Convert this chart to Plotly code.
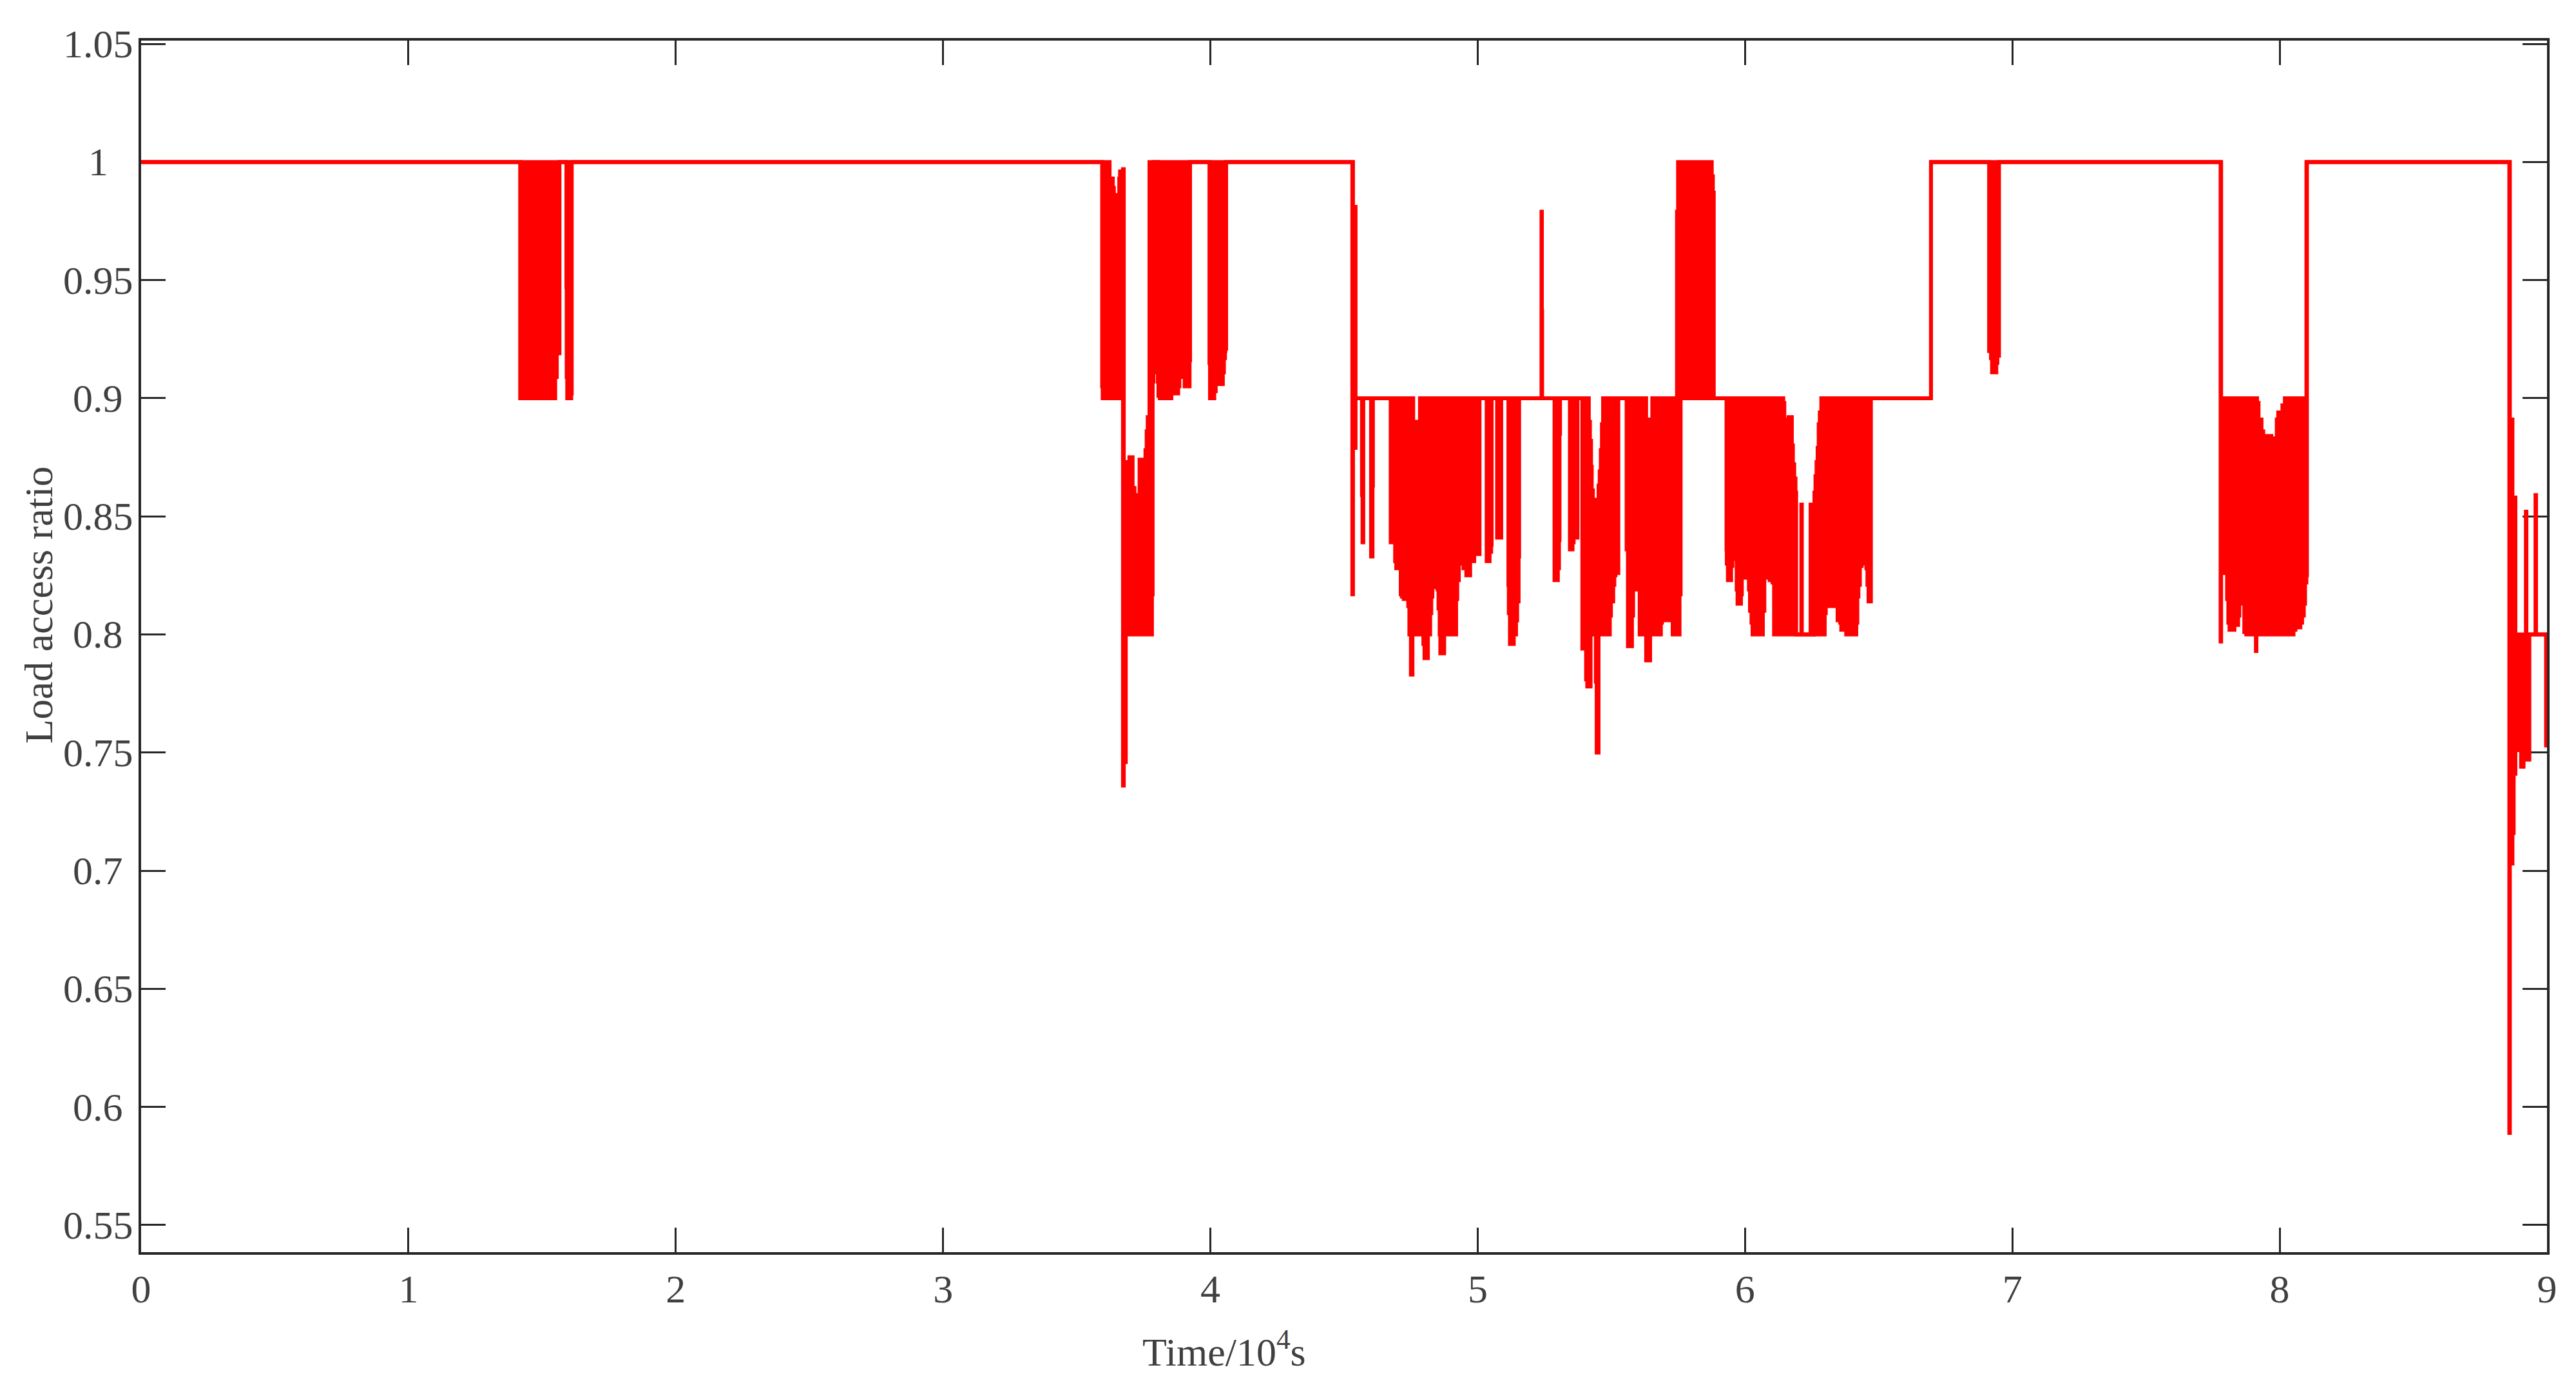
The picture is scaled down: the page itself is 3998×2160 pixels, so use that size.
import plotly.graph_objects as go

# Load access ratio vs time (time in 1e4 s).
# Each region is a list of (time, upper envelope, lower envelope) breakpoints;
# the value holds until the next breakpoint (step signal). Where the signal
# oscillates fast, upper/lower give the band that the trace fills.
start_flat = [
    (0.000, 1.000, 1.000),
]
burst_1_5 = [
    (1.418, 1.000, 0.900), (1.444, 1.000, 0.909), (1.448, 1.000, 0.900),
    (1.549, 1.000, 0.909), (1.555, 1.000, 0.919), (1.565, 1.000, 1.000),
    (1.591, 1.000, 0.947), (1.592, 1.000, 0.909), (1.594, 1.000, 0.900),
    (1.609, 1.000, 0.902), (1.611, 1.000, 1.000),
]
burst_3_7 = [
    (3.595, 1.000, 0.905), (3.597, 1.000, 0.900), (3.623, 0.993, 0.900),
    (3.635, 0.989, 0.900), (3.639, 0.983, 0.900), (3.643, 0.910, 0.900),
    (3.649, 0.981, 0.900), (3.653, 0.986, 0.900), (3.659, 0.993, 0.900),
    (3.662, 0.996, 0.900), (3.673, 0.997, 0.736), (3.676, 0.873, 0.746),
    (3.6835, 0.857, 0.800), (3.687, 0.868, 0.800), (3.689, 0.869, 0.800),
    (3.697, 0.875, 0.800), (3.709, 0.862, 0.800), (3.716, 0.857, 0.800),
    (3.721, 0.801, 0.800), (3.729, 0.859, 0.800), (3.735, 0.874, 0.800),
    (3.749, 0.873, 0.800), (3.757, 0.878, 0.800), (3.7615, 0.886, 0.800),
    (3.7655, 0.892, 0.800), (3.772, 1.000, 0.800), (3.7815, 1.000, 0.817),
    (3.784, 1.000, 0.907), (3.787, 1.000, 0.911), (3.790, 1.000, 1.000),
    (3.8035, 1.000, 0.907), (3.8056, 1.000, 0.901), (3.811, 1.000, 0.900),
    (3.854, 1.000, 0.902), (3.8795, 1.000, 0.905), (3.884, 1.000, 0.909),
    (3.894, 1.000, 0.915), (3.8996, 1.000, 0.910), (3.9036, 1.000, 0.905),
    (3.9221, 1.000, 0.916), (3.924, 1.000, 1.000),
]
burst_4_0 = [
    (3.9965, 1.000, 0.915), (3.9985, 1.000, 0.900), (4.0145, 1.000, 0.903),
    (4.020, 1.000, 0.916), (4.024, 1.000, 0.911), (4.028, 1.000, 0.906),
    (4.0466, 1.000, 0.911), (4.0506, 1.000, 0.917), (4.0546, 1.000, 0.920),
    (4.056, 1.000, 0.921), (4.059, 1.000, 1.000),
]
drop_4_5 = [
    (4.531, 1.000, 0.817), (4.5335, 0.900, 0.900), (4.541, 0.981, 0.879),
    (4.543, 0.900, 0.900), (4.567, 0.900, 0.859), (4.569, 0.900, 0.839),
    (4.572, 0.900, 0.900), (4.601, 0.900, 0.833), (4.6065, 0.900, 0.863),
    (4.608, 0.900, 0.900),
]
burst_4_7 = [
    (4.6745, 0.900, 0.839), (4.6826, 0.900, 0.864), (4.6868, 0.900, 0.845),
    (4.6910, 0.900, 0.831), (4.6952, 0.900, 0.828), (4.7121, 0.900, 0.817),
    (4.7164, 0.900, 0.816), (4.7231, 0.900, 0.815), (4.7358, 0.900, 0.817),
    (4.7400, 0.900, 0.812), (4.7443, 0.900, 0.800), (4.7500, 0.900, 0.783),
    (4.7560, 0.900, 0.800), (4.7587, 0.890, 0.800), (4.7840, 0.900, 0.800),
    (4.7967, 0.900, 0.796), (4.8009, 0.900, 0.790), (4.8136, 0.900, 0.800),
    (4.8221, 0.900, 0.809), (4.8263, 0.900, 0.816), (4.8305, 0.900, 0.820),
    (4.8449, 0.900, 0.825), (4.8500, 0.900, 0.819), (4.8533, 0.900, 0.811),
    (4.8576, 0.900, 0.800), (4.8601, 0.900, 0.792), (4.8745, 0.900, 0.800),
    (4.9193, 0.900, 0.815), (4.9235, 0.900, 0.823), (4.9294, 0.900, 0.830),
    (4.9463, 0.900, 0.828), (4.9573, 0.900, 0.825), (4.9717, 0.900, 0.831),
    (4.9869, 0.900, 0.835), (4.9954, 0.900, 0.834), (5.0068, 0.900, 0.900),
]
burst_5_1 = [
    (5.0335, 0.900, 0.831), (5.0444, 0.900, 0.835), (5.0503, 0.900, 0.838),
    (5.0520, 0.900, 0.900), (5.0725, 0.900, 0.841), (5.0880, 0.900, 0.900),
    (5.1148, 0.900, 0.821), (5.1163, 0.900, 0.809), (5.1205, 0.900, 0.796),
    (5.1349, 0.900, 0.800), (5.1434, 0.900, 0.806), (5.1476, 0.900, 0.814),
    (5.1530, 0.900, 0.833), (5.1549, 0.900, 0.900),
    (5.2385, 0.979, 0.900), (5.2400, 0.937, 0.900), (5.2410, 0.900, 0.900),
    (5.2873, 0.900, 0.823), (5.2998, 0.900, 0.828), (5.3040, 0.900, 0.840),
    (5.3060, 0.900, 0.885), (5.3080, 0.900, 0.900),
    (5.3448, 0.900, 0.836), (5.3547, 0.900, 0.839), (5.3589, 0.900, 0.841),
    (5.3731, 0.900, 0.900),
]
burst_5_4 = [
    (5.3913, 0.900, 0.794), (5.4012, 0.900, 0.797), (5.4054, 0.900, 0.781),
    (5.4097, 0.900, 0.778), (5.4156, 0.890, 0.778), (5.4198, 0.882, 0.778),
    (5.4223, 0.882, 0.800), (5.4240, 0.871, 0.800), (5.4266, 0.861, 0.800),
    (5.4308, 0.854, 0.800), (5.4350, 0.857, 0.800), (5.4418, 0.857, 0.780),
    (5.4450, 0.854, 0.750), (5.4520, 0.863, 0.800), (5.4562, 0.869, 0.800),
    (5.4604, 0.878, 0.800), (5.4646, 0.889, 0.800), (5.4689, 0.900, 0.800),
    (5.4942, 0.900, 0.808), (5.4984, 0.900, 0.814), (5.5069, 0.900, 0.821),
    (5.5111, 0.900, 0.825), (5.5153, 0.900, 0.826), (5.5261, 0.900, 0.900),
]
burst_5_7 = [
    (5.5570, 0.900, 0.836), (5.5619, 0.900, 0.795), (5.5771, 0.900, 0.808),
    (5.5813, 0.900, 0.824), (5.5872, 0.900, 0.829), (5.5914, 0.900, 0.819),
    (5.6058, 0.900, 0.800), (5.6300, 0.891, 0.789), (5.6434, 0.880, 0.789),
    (5.6450, 0.880, 0.800), (5.6506, 0.891, 0.800), (5.6530, 0.900, 0.800),
    (5.6852, 0.900, 0.805), (5.6892, 0.900, 0.812), (5.7012, 0.900, 0.806),
    (5.7149, 0.900, 0.811), (5.7189, 0.900, 0.835), (5.7229, 0.900, 0.822),
    (5.7269, 0.900, 0.814), (5.7293, 0.900, 0.800), (5.7454, 0.979, 0.800),
    (5.7494, 1.000, 0.800), (5.7550, 1.000, 0.817), (5.7591, 1.000, 0.900),
    (5.8498, 0.994, 0.900), (5.8579, 1.000, 0.900), (5.8755, 0.994, 0.900),
    (5.8796, 0.987, 0.900), (5.8830, 0.900, 0.900),
]
burst_6_2 = [
    (5.9307, 0.900, 0.836), (5.9318, 0.900, 0.830), (5.9358, 0.900, 0.823),
    (5.9478, 0.900, 0.829), (5.9526, 0.900, 0.832), (5.9582, 0.900, 0.839),
    (5.9687, 0.900, 0.819), (5.9719, 0.900, 0.813), (5.9848, 0.900, 0.817),
    (5.9880, 0.900, 0.824), (6.0040, 0.900, 0.832), (6.0081, 0.900, 0.826),
    (6.0145, 0.900, 0.819), (6.0185, 0.900, 0.810), (6.0241, 0.900, 0.805),
    (6.0281, 0.900, 0.800), (6.0386, 0.894, 0.800), (6.0426, 0.900, 0.800),
    (6.0667, 0.900, 0.810), (6.0723, 0.900, 0.824), (6.0827, 0.900, 0.826),
    (6.0884, 0.900, 0.824), (6.0924, 0.900, 0.823), (6.1028, 0.900, 0.822),
    (6.1085, 0.900, 0.800), (6.1430, 0.898, 0.800), (6.1470, 0.890, 0.800),
    (6.1510, 0.884, 0.800), (6.1550, 0.879, 0.800), (6.1591, 0.891, 0.800),
    (6.1631, 0.892, 0.800), (6.1751, 0.880, 0.800), (6.1791, 0.872, 0.800),
    (6.1840, 0.866, 0.800), (6.1888, 0.860, 0.800), (6.1912, 0.800, 0.800),
    (6.2105, 0.855, 0.800), (6.2125, 0.800, 0.800), (6.2452, 0.855, 0.800),
    (6.2472, 0.800, 0.800), (6.2595, 0.860, 0.800), (6.2635, 0.867, 0.800),
    (6.2675, 0.873, 0.800), (6.2715, 0.879, 0.800), (6.2755, 0.889, 0.800),
    (6.2796, 0.894, 0.800), (6.2852, 0.900, 0.800), (6.2980, 0.900, 0.809),
    (6.3021, 0.900, 0.812), (6.3117, 0.900, 0.816), (6.3157, 0.900, 0.817),
    (6.3213, 0.900, 0.812), (6.3414, 0.900, 0.819), (6.3462, 0.900, 0.806),
    (6.3558, 0.900, 0.805), (6.3599, 0.900, 0.802), (6.3719, 0.900, 0.806),
    (6.3783, 0.900, 0.800), (6.4161, 0.900, 0.805), (6.4201, 0.900, 0.816),
    (6.4241, 0.900, 0.821), (6.4297, 0.900, 0.829), (6.4362, 0.900, 0.830),
    (6.4426, 0.900, 0.835), (6.4458, 0.900, 0.841), (6.4498, 0.900, 0.837),
    (6.4538, 0.900, 0.828), (6.4578, 0.900, 0.821), (6.4619, 0.900, 0.814),
    (6.4709, 0.900, 0.900),
]
recover_6_7 = [
    (6.6956, 1.000, 1.000),
    (6.9130, 1.000, 0.920), (6.9200, 1.000, 0.917), (6.9240, 1.000, 0.911),
    (6.9400, 1.000, 0.915), (6.9440, 1.000, 0.918), (6.9500, 1.000, 1.000),
]
burst_7_9 = [
    (7.7790, 1.000, 0.797), (7.7810, 0.900, 0.833), (7.7894, 0.900, 0.827),
    (7.7940, 0.900, 0.826), (7.8032, 0.900, 0.815), (7.8078, 0.900, 0.805),
    (7.8124, 0.900, 0.802), (7.8308, 0.900, 0.804), (7.8446, 0.900, 0.808),
    (7.8492, 0.900, 0.819), (7.8538, 0.900, 0.822), (7.8584, 0.900, 0.815),
    (7.8630, 0.900, 0.813), (7.8676, 0.900, 0.801), (7.8750, 0.900, 0.800),
    (7.9110, 0.900, 0.793), (7.9130, 0.900, 0.800), (7.9154, 0.898, 0.800),
    (7.9210, 0.891, 0.800), (7.9320, 0.886, 0.800), (7.9385, 0.884, 0.800),
    (7.9458, 0.875, 0.800), (7.9523, 0.876, 0.800), (7.9569, 0.884, 0.800),
    (7.9688, 0.882, 0.800), (7.9734, 0.883, 0.800), (7.9891, 0.891, 0.800),
    (7.9946, 0.894, 0.800), (8.0102, 0.897, 0.800), (8.0194, 0.900, 0.800),
    (8.0517, 0.900, 0.802), (8.0590, 0.900, 0.805), (8.0636, 0.900, 0.804),
    (8.0701, 0.900, 0.803), (8.0774, 0.900, 0.805), (8.0839, 0.900, 0.808),
    (8.0903, 0.900, 0.813), (8.0949, 0.900, 0.822), (8.1000, 1.000, 0.825),
    (8.1020, 1.000, 1.000),
]
drop_8_9 = [
    (8.8590, 1.000, 0.589), (8.8610, 0.891, 0.703), (8.8708, 0.858, 0.716),
    (8.8754, 0.858, 0.741), (8.8818, 0.800, 0.752), (8.8874, 0.800, 0.751),
    (8.9030, 0.800, 0.744), (8.9122, 0.800, 0.747), (8.9210, 0.852, 0.749),
    (8.9230, 0.800, 0.749), (8.9306, 0.800, 0.747), (8.9340, 0.800, 0.800),
    (8.9570, 0.859, 0.800), (8.9590, 0.800, 0.800), (8.9965, 0.800, 0.753),
    (9.0000, 0.800, 0.753),
]

x_ticks = [0, 1, 2, 3, 4, 5, 6, 7, 8, 9]
y_ticks = [0.55, 0.6, 0.65, 0.7, 0.75, 0.8, 0.85, 0.9, 0.95, 1.0, 1.05]
y_tick_text = ["0.55", "0.6", "0.65", "0.7", "0.75", "0.8", "0.85", "0.9", "0.95", "1", "1.05"]

rows = (start_flat + burst_1_5 + burst_3_7 + burst_4_0 + drop_4_5 + burst_4_7
        + burst_5_1 + burst_5_4 + burst_5_7 + burst_6_2 + recover_6_7
        + burst_7_9 + drop_8_9)
t = [r[0] for r in rows]
upper = [r[1] for r in rows]
lower = [r[2] for r in rows]

RED = "#ff0000"
INK = "#262626"
TXT = "#404040"
FONT = "Liberation Serif"

fig = go.Figure()
fig.add_trace(go.Scatter(
    x=t, y=lower, mode="lines",
    line=dict(color=RED, width=6, shape="hv", simplify=False),
    hoverinfo="skip", showlegend=False,
))
fig.add_trace(go.Scatter(
    x=t, y=upper, mode="lines", fill="tonexty", fillcolor=RED,
    line=dict(color=RED, width=6, shape="hv", simplify=False),
    hoverinfo="skip", showlegend=False,
))

axis_style = dict(
    showgrid=False, zeroline=False, showline=True, linecolor=INK, linewidth=4,
    mirror="ticks", ticks="inside", ticklen=38, tickwidth=3, tickcolor=INK,
    layer="below traces",
)

fig.update_xaxes(range=[0, 9], tickmode="array", tickvals=x_ticks,
                 ticktext=[str(v) for v in x_ticks],
                 tickfont=dict(family=FONT, size=62, color=TXT), **axis_style)
fig.update_yaxes(range=[0.5385, 1.0514], tickmode="array", tickvals=y_ticks,
                 showticklabels=False, **axis_style)

# y tick labels are centred in the original, so they are placed as annotations
for v, s in zip(y_ticks, y_tick_text):
    fig.add_annotation(x=0, xref="paper", y=v, yref="y", text=s, showarrow=False,
                       xanchor="center", yanchor="middle", xshift=-67,
                       font=dict(family=FONT, size=62, color=TXT))

fig.add_annotation(x=0, xref="paper", y=0.534, yref="paper", text="Load access ratio",
                   textangle=-90, showarrow=False, xanchor="center", yanchor="middle",
                   xshift=-159, font=dict(family=FONT, size=62, color=TXT))
fig.add_annotation(x=0.4502, xref="paper", y=0, yref="paper", text="Time/10<sup>4</sup>s",
                   showarrow=False, xanchor="center", yanchor="middle", yshift=-150,
                   font=dict(family=FONT, size=62, color=TXT))

fig.update_layout(
    width=3982, height=2140,
    margin=dict(l=211, r=37, t=55, b=205),
    paper_bgcolor="white", plot_bgcolor="white",
    showlegend=False,
)

fig.write_html("out.html")
